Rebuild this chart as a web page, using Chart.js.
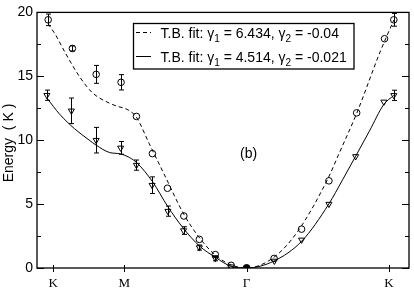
<!DOCTYPE html>
<html><head><meta charset="utf-8">
<script src="https://cdn.jsdelivr.net/npm/chart.js@4.4.0/dist/chart.umd.min.js"></script>
<style>html,body{margin:0;padding:0;background:#fff}</style>
</head><body>
<canvas id="c" width="414" height="288"></canvas>
<script>
// ---- data ----
const tickPositions = [0, 0.5, 1.359, 2.358];
const tickLabels = ['K', 'M', 'Γ', 'K'];
const yTitle = 'Energy  ( K )';
const panelLabel = '(b)';

const circX = [-0.035, 0.135, 0.302, 0.477, 0.585, 0.697, 0.803, 0.918, 1.027, 1.139, 1.250, 1.552, 1.745, 1.937, 2.132, 2.328, 2.393];
const circY = [19.42, 17.18, 15.15, 14.53, 11.86, 8.95, 6.24, 4.07, 2.24, 1.05, 0.21, 0.75, 3.04, 6.82, 12.14, 17.94, 19.42];
const circErr = [0.45, 0.2, 0.7, 0.6, 0, 0, 0, 0, 0, 0, 0, 0, 0, 0, 0, 0, 0.5];

const triX = [-0.044, 0.128, 0.302, 0.474, 0.585, 0.695, 0.806, 0.916, 1.027, 1.139, 1.250, 1.554, 1.745, 1.937, 2.125, 2.323, 2.393];
const triY = [13.52, 12.3, 10.0, 9.4, 8.05, 6.48, 4.45, 2.93, 1.6, 0.76, 0.1, 0.55, 2.2, 5.0, 8.73, 13.0, 13.51];
const triErr = [0.4, 1.0, 1.0, 0.5, 0.4, 0.65, 0.4, 0.3, 0.2, 0.2, 0, 0, 0, 0, 0, 0, 0.4];

const gammaX = [1.359];
const gammaY = [0];

const fit1Label = 'T.B. fit: γ1 = 6.434, γ2 = -0.04';
const fit1X = [-0.035, 0.019, 0.082, 0.186, 0.277, 0.395, 0.451, 0.500, 0.543, 0.585, 0.674, 0.790, 0.918, 1.022, 1.134, 1.248, 1.359, 1.552, 1.719, 1.928, 2.010, 2.132, 2.300, 2.393];
const fit1Y = [19.1, 18.2, 16.9, 14.96, 13.7, 12.9, 12.65, 12.5, 12.25, 11.8, 9.75, 7.1, 4.2, 2.45, 1.05, 0.25, 0, 0.85, 2.88, 6.95, 9.0, 12.1, 17.0, 19.4];

const fit2Label = 'T.B. fit: γ1 = 4.514, γ2 = -0.021';
const fit2X = [-0.044, 0.045, 0.150, 0.254, 0.301, 0.395, 0.472, 0.535, 0.589, 0.697, 0.806, 0.913, 1.027, 1.139, 1.250, 1.359, 1.552, 1.747, 1.936, 2.033, 2.125, 2.221, 2.323, 2.393];
const fit2Y = [13.3, 12.04, 10.9, 10.0, 9.62, 9.04, 8.93, 8.65, 8.22, 6.77, 4.79, 3.13, 1.73, 0.84, 0.13, 0, 0.55, 2.11, 5.0, 6.9, 8.75, 10.7, 12.8, 13.5];

const toPts = (xs, ys) => xs.map((x, i) => ({x, y: ys[i]}));

const errorBars = {
  id: 'errorBars',
  afterDatasetsDraw(chart) {
    const ctx = chart.ctx, xs = chart.scales.x, ys = chart.scales.y;
    ctx.save();
    ctx.strokeStyle = '#000';
    ctx.lineWidth = 1;
    chart.data.datasets.forEach(ds => {
      if (!ds.errors) return;
      ds.data.forEach((p, i) => {
        const e = ds.errors[i];
        if (!e) return;
        const px = Math.round(xs.getPixelForValue(p.x)) + 0.5;
        const y1 = ys.getPixelForValue(p.y + e), y2 = ys.getPixelForValue(p.y - e);
        ctx.beginPath();
        ctx.moveTo(px, y1); ctx.lineTo(px, y2);
        ctx.moveTo(px - 2.5, y1); ctx.lineTo(px + 2.5, y1);
        ctx.moveTo(px - 2.5, y2); ctx.lineTo(px + 2.5, y2);
        ctx.stroke();
      });
    });
    ctx.restore();
  }
};

const frame = {
  id: 'frame',
  afterDraw(chart) {
    const ctx = chart.ctx, a = chart.chartArea, xs = chart.scales.x, ys = chart.scales.y;
    ctx.save();
    ctx.strokeStyle = '#000';
    ctx.lineWidth = 1.3;
    ctx.strokeRect(a.left, a.top, a.right - a.left, a.bottom - a.top);
    ctx.lineWidth = 1;
    ctx.beginPath();
    for (let v = 0; v <= 20; v += 2.5) {
      const y = Math.round(ys.getPixelForValue(v)) + 0.5;
      const len = (v % 5 === 0) ? 7 : 4;
      ctx.moveTo(a.left, y); ctx.lineTo(a.left + len, y);
      ctx.moveTo(a.right, y); ctx.lineTo(a.right - len, y);
    }
    tickPositions.forEach(v => {
      const x = Math.round(xs.getPixelForValue(v)) + 0.5;
      ctx.moveTo(x, a.bottom - 3); ctx.lineTo(x, a.bottom + 4);
    });
    ctx.stroke();

    // y title
    ctx.fillStyle = '#000';
    ctx.font = '14px "Liberation Sans", Arial, sans-serif';
    ctx.translate(13, 143);
    ctx.rotate(-Math.PI / 2);
    ctx.textAlign = 'center';
    ctx.textBaseline = 'alphabetic';
    ctx.fillText(yTitle, 0, 0);
    ctx.setTransform(1, 0, 0, 1, 0, 0);

    // panel label
    ctx.font = '14px "Liberation Sans", Arial, sans-serif';
    ctx.textAlign = 'left';
    ctx.fillText(panelLabel, 240, 158);

    // legend
    const bx = 133.5, by = 23.5, bw = 220.5, bh = 45.5;
    ctx.fillStyle = '#fff';
    ctx.fillRect(bx, by, bw, bh);
    ctx.strokeStyle = '#000';
    ctx.lineWidth = 1.3;
    ctx.strokeRect(bx, by, bw, bh);
    const rows = [chart.data.datasets[0], chart.data.datasets[1]];
    const rowY = [32.5, 56.5];
    rows.forEach((ds, r) => {
      ctx.lineWidth = 1;
      ctx.setLineDash(ds.borderDash || []);
      ctx.beginPath();
      ctx.moveTo(136, rowY[r]); ctx.lineTo(151, rowY[r]);
      ctx.stroke();
      ctx.setLineDash([]);
      // text with subscripts
      let x = 160.5;
      const base = rowY[r] + 5;
      const parts = ds.label.split(/γ(\d)/);
      ctx.fillStyle = '#000';
      ctx.textAlign = 'left';
      parts.forEach((t, k) => {
        if (k % 2 === 0) {
          ctx.font = '14px "Liberation Sans", Arial, sans-serif';
          ctx.fillText(t, x, base); x += ctx.measureText(t).width;
          if (k < parts.length - 1) {
            ctx.fillText('γ', x, base); x += ctx.measureText('γ').width;
          }
        } else {
          ctx.font = '10px "Liberation Sans", Arial, sans-serif';
          ctx.fillText(t, x, base + 4); x += ctx.measureText(t).width;
        }
      });
    });
    ctx.restore();
  }
};

new Chart(document.getElementById('c'), {
  type: 'scatter',
  data: {
    datasets: [
      { label: fit1Label, data: toPts(fit1X, fit1Y), showLine: true, borderColor: '#000', borderWidth: 1,
        borderDash: [4, 3], pointRadius: 0, cubicInterpolationMode: 'monotone', fill: false },
      { label: fit2Label, data: toPts(fit2X, fit2Y), showLine: true, borderColor: '#000', borderWidth: 1,
        pointRadius: 0, cubicInterpolationMode: 'monotone', fill: false },
      { label: 'circles', data: toPts(circX, circY), errors: circErr, pointStyle: 'circle', pointRadius: 3.3,
        borderColor: '#000', backgroundColor: 'rgba(0,0,0,0)', borderWidth: 1 },
      { label: 'triangles', data: toPts(triX, triY), errors: triErr, pointStyle: 'triangle', rotation: 180,
        pointRadius: 3.5, borderColor: '#000', backgroundColor: 'rgba(0,0,0,0)', borderWidth: 1 },
      { label: 'gamma', data: toPts(gammaX, gammaY), pointStyle: 'circle', pointRadius: 3.5,
        borderColor: '#000', backgroundColor: '#000', borderWidth: 1 }
    ]
  },
  options: {
    responsive: false, animation: false, devicePixelRatio: 1,
    layout: { padding: { left: 0, right: 2, top: 6, bottom: 0 } },
    plugins: { legend: { display: false }, tooltip: { enabled: false } },
    scales: {
      x: {
        type: 'linear', min: -0.1136, max: 2.4997,
        grid: { display: false, drawTicks: false }, border: { display: false },
        afterBuildTicks: s => { s.ticks = tickPositions.map(v => ({ value: v })); },
        afterFit: s => { s.height = 20; },
        ticks: { autoSkip: false, maxRotation: 0, padding: 8, color: '#000',
          font: { family: '"Liberation Serif", "Times New Roman", serif', size: 13 },
          callback: (v, i) => tickLabels[i] }
      },
      y: {
        min: 0, max: 20,
        grid: { display: false, drawTicks: false }, border: { display: false },
        afterFit: s => { s.width = 37; },
        ticks: { stepSize: 5, padding: 4, color: '#000',
          font: { family: '"Liberation Sans", Arial, sans-serif', size: 14 } }
      }
    }
  },
  plugins: [errorBars, frame]
});
</script>
</body></html>
